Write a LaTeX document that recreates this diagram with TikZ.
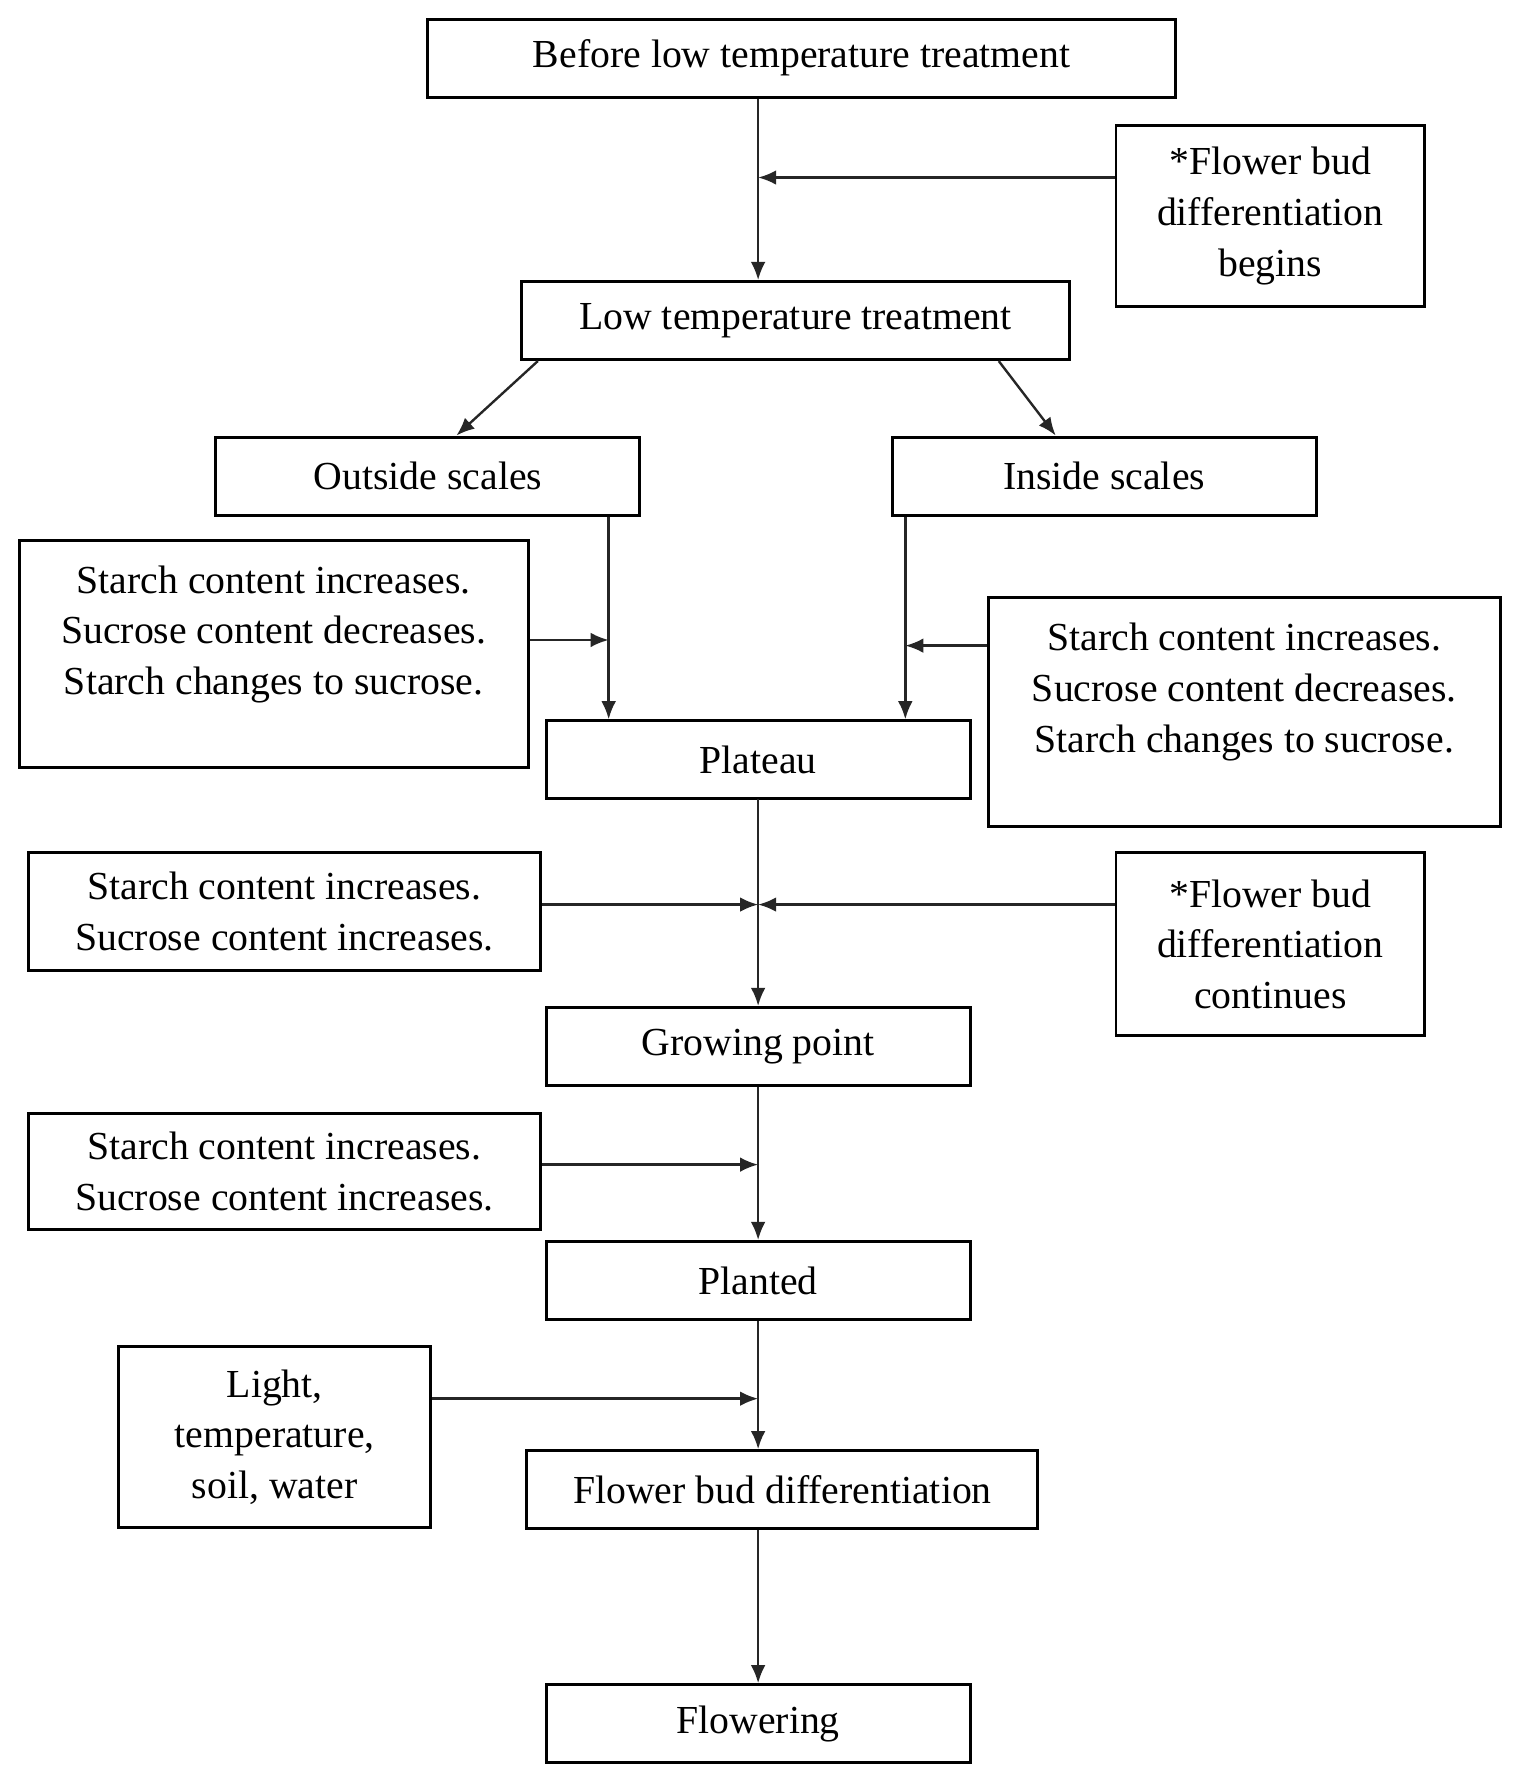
\documentclass[tikz,border=0pt]{standalone}
\usepackage{fontspec}
\setmainfont{Liberation Serif}
\usetikzlibrary{arrows.meta}

\begin{document}
\begin{tikzpicture}[
        stage/.style = {draw, line width=1.5pt, minimum width=7.5cm, minimum height=1.38cm, inner sep=0pt, align=center, font=\fontsize{20}{25.5}\selectfont},
        note/.style = {stage, minimum width=#1},
        note/.default = 9.06cm,
        flow/.style = {-{Latex[length=3.2mm,width=2.6mm]}, line width=1.2pt, draw=black!85},
    ]
    \useasboundingbox (0,0) rectangle (26.8,-31.45);
    % main stages
    \node[stage, minimum width=13.24cm] (before) at (14.18,-1.03) {Before low temperature treatment};
    \node[stage, minimum width=9.7cm] (lowtemp) at (14.07,-5.67) {Low temperature treatment};
    \node[stage] (outside) at (7.57,-8.42) {Outside scales};
    \node[stage] (inside) at (19.53,-8.42) {Inside scales};
    \node[stage] (plateau) at (13.41,-13.44) {Plateau};
    \node[stage] (growing) at (13.41,-18.51) {Growing point};
    \node[stage] (planted) at (13.41,-22.65) {Planted};
    \node[stage, minimum width=9.04cm] (budstage) at (13.84,-26.35) {Flower bud differentiation};
    \node[stage] (flowering) at (13.41,-30.49) {Flowering};
    % side notes
    \node[note=5.46cm, minimum height=3.2cm] (begins) at (22.47,-3.82) {*Flower bud\\ differentiation\\ begins};
    \node[note=9.0cm, minimum height=4.02cm] (outnote) at (4.84,-11.57) {Starch content increases.\\ Sucrose content decreases.\\ Starch changes to sucrose.\rule[-0.85cm]{0pt}{0pt}};
    \node[note, minimum height=4.06cm] (innote) at (22.01,-12.59) {Starch content increases.\\ Sucrose content decreases.\\ Starch changes to sucrose.\rule[-0.85cm]{0pt}{0pt}};
    \node[note, minimum height=2.08cm] (platnote) at (5.03,-16.12) {Starch content increases.\\ Sucrose content increases.};
    \node[note=5.46cm, minimum height=3.24cm] (continues) at (22.47,-16.7) {*Flower bud\\ differentiation\\ continues};
    \node[note, minimum height=2.04cm] (grownote) at (5.03,-20.72) {Starch content increases.\\ Sucrose content increases.};
    \node[note=5.52cm, minimum height=3.2cm] (envnote) at (4.86,-25.42) {Light,\\ temperature,\\ soil, water};
    % main line
    \draw[flow] (before.south -| plateau) -- (lowtemp.north -| plateau);
    \draw[flow] ([xshift=0.32cm]lowtemp.south west) -- ([xshift=4.28cm]outside.north west);
    \draw[flow] ([xshift=-1.28cm]lowtemp.south east) -- ([xshift=2.92cm]inside.north west);
    \draw[flow] ([xshift=-0.58cm]outside.south east) coordinate (o1) -- (o1 |- plateau.north);
    \draw[flow] ([xshift=0.26cm]inside.south west) coordinate (i1) -- (i1 |- plateau.north);
    \draw[flow] (plateau) ++(0,-0.7) -- (growing.north);
    \draw[flow] (growing.south) -- (planted.north);
    \draw[flow] (planted.south) -- (planted.south |- budstage.north);
    \draw[flow] (planted.south |- budstage.south) -- (flowering.north);
    % notes to line
    \draw[flow] ([yshift=0.68cm]begins.west) coordinate (b1) -- (b1 -| plateau);
    \draw[flow] ([yshift=0.25cm]outnote.east) coordinate (n1) -- (n1 -| o1);
    \draw[flow] ([yshift=1.17cm]innote.west) coordinate (n2) -- (n2 -| i1);
    \draw[flow] ([yshift=0.12cm]platnote.east) coordinate (n3) -- (n3 -| plateau);
    \draw[flow] ([yshift=0.7cm]continues.west) coordinate (n4) -- (n4 -| plateau);
    \draw[flow] ([yshift=0.12cm]grownote.east) coordinate (n5) -- (n5 -| plateau);
    \draw[flow] ([yshift=0.68cm]envnote.east) coordinate (n6) -- (n6 -| plateau);
\end{tikzpicture}
\end{document}
